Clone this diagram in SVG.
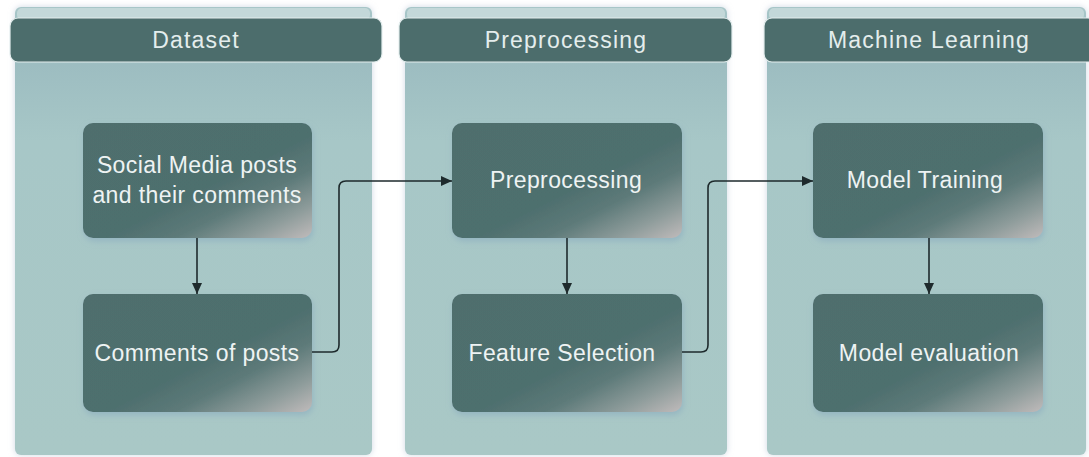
<svg xmlns="http://www.w3.org/2000/svg" width="1089" height="457" viewBox="0 0 1089 457">
  <style>
    .panel { fill: url(#panelFill); filter: url(#panelShadow); }
    .panelTop { fill: #c3d8d9; }
    .header { fill: #4c6d6c; stroke: #e4eeee; stroke-width: 1.2; }
    .headerText { font-family: "Liberation Sans", Arial, sans-serif; font-size: 23px; letter-spacing: 1.2px; fill: #e4eded; text-anchor: middle; }
    .node { fill: url(#nodeFill); filter: url(#nodeShadow); }
    .nodeText { font-family: "Liberation Sans", Arial, sans-serif; font-size: 23px; letter-spacing: 0.4px; fill: #eef3f3; text-anchor: middle; }
    .link { fill: none; stroke: #1e2a2c; stroke-width: 1.6; }
  </style>
  <defs>
    <linearGradient id="panelFill" x1="0" y1="0" x2="0" y2="1">
      <stop offset="0" stop-color="#a7c6c8"/>
      <stop offset="0.13" stop-color="#9dbdc1"/>
      <stop offset="0.3" stop-color="#a7c7c7"/>
      <stop offset="1" stop-color="#a9c8c6"/>
    </linearGradient>
    <linearGradient id="nodeFill" x1="0" y1="0" x2="1" y2="1">
      <stop offset="0" stop-color="#4f6e6d"/>
      <stop offset="0.55" stop-color="#4e6f6e"/>
      <stop offset="0.7" stop-color="#5d7a79"/>
      <stop offset="0.86" stop-color="#8e9c9b"/>
      <stop offset="1" stop-color="#c0bbbb"/>
    </linearGradient>
    <filter id="panelShadow" x="-5%" y="-5%" width="110%" height="110%">
      <feGaussianBlur in="SourceAlpha" stdDeviation="3"/>
      <feOffset dx="0" dy="0" result="b"/>
      <feFlood flood-color="#b8c6d6" flood-opacity="0.7"/>
      <feComposite in2="b" operator="in"/>
      <feMerge><feMergeNode/><feMergeNode in="SourceGraphic"/></feMerge>
    </filter>
    <filter id="nodeShadow" x="-10%" y="-10%" width="120%" height="125%">
      <feGaussianBlur in="SourceAlpha" stdDeviation="3"/>
      <feOffset dx="1" dy="3" result="b"/>
      <feFlood flood-color="#8fb0c0" flood-opacity="0.8"/>
      <feComposite in2="b" operator="in"/>
      <feMerge><feMergeNode/><feMergeNode in="SourceGraphic"/></feMerge>
    </filter>
    <marker id="arrow" viewBox="0 0 11 11" refX="11" refY="5.5" markerWidth="11" markerHeight="11" markerUnits="userSpaceOnUse" orient="auto">
      <path d="M0,0.5 L11,5.5 L0,10.5 Z" fill="#1e2a2c"/>
    </marker>
  </defs>

  <rect width="1089" height="457" fill="#ffffff"/>

  <!-- swimlane: Dataset -->
  <g id="lane-dataset">
    <rect class="panel" x="15" y="7" width="357" height="448" rx="6"/>
    <rect class="panelTop" x="17" y="8" width="353" height="12" rx="5"/>
    <rect class="header" x="10" y="18" width="372" height="44" rx="8"/>
    <text class="headerText" x="196" y="48">Dataset</text>
  </g>

  <!-- swimlane: Preprocessing -->
  <g id="lane-preprocessing">
    <rect class="panel" x="405" y="7" width="322" height="448" rx="6"/>
    <rect class="panelTop" x="407" y="8" width="318" height="12" rx="5"/>
    <rect class="header" x="399" y="18" width="333" height="44" rx="8"/>
    <text class="headerText" x="566" y="48">Preprocessing</text>
  </g>

  <!-- swimlane: Machine Learning -->
  <g id="lane-ml">
    <rect class="panel" x="767" y="7" width="319" height="448" rx="6"/>
    <rect class="panelTop" x="769" y="8" width="315" height="12" rx="5"/>
    <rect class="header" x="764" y="18" width="332" height="44" rx="8"/>
    <text class="headerText" x="929" y="48">Machine Learning</text>
  </g>

  <!-- process steps -->
  <g id="node-social-media">
    <rect class="node" x="83" y="123" width="229" height="115" rx="10"/>
    <text class="nodeText" x="197" y="173">Social Media posts</text>
    <text class="nodeText" x="197" y="203">and their comments</text>
  </g>
  <g id="node-comments">
    <rect class="node" x="83" y="294" width="229" height="118" rx="10"/>
    <text class="nodeText" x="197" y="361">Comments of posts</text>
  </g>
  <g id="node-preprocessing">
    <rect class="node" x="452" y="123" width="230" height="115" rx="10"/>
    <text class="nodeText" x="566" y="188">Preprocessing</text>
  </g>
  <g id="node-feature-selection">
    <rect class="node" x="452" y="294" width="230" height="118" rx="10"/>
    <text class="nodeText" x="562" y="361">Feature Selection</text>
  </g>
  <g id="node-model-training">
    <rect class="node" x="813" y="123" width="230" height="115" rx="10"/>
    <text class="nodeText" x="925" y="188">Model Training</text>
  </g>
  <g id="node-model-evaluation">
    <rect class="node" x="813" y="294" width="230" height="118" rx="10"/>
    <text class="nodeText" x="929" y="361">Model evaluation</text>
  </g>

  <!-- connectors -->
  <g id="connectors">
    <path class="link" d="M197,238 V294" marker-end="url(#arrow)"/>
    <path class="link" d="M567,238 V294" marker-end="url(#arrow)"/>
    <path class="link" d="M929,238 V294" marker-end="url(#arrow)"/>
    <path class="link" d="M312,352 H332 Q339,352 339,345 V188 Q339,181 346,181 H452" marker-end="url(#arrow)"/>
    <path class="link" d="M682,352 H701 Q708,352 708,345 V188 Q708,181 715,181 H813" marker-end="url(#arrow)"/>
  </g>
</svg>
